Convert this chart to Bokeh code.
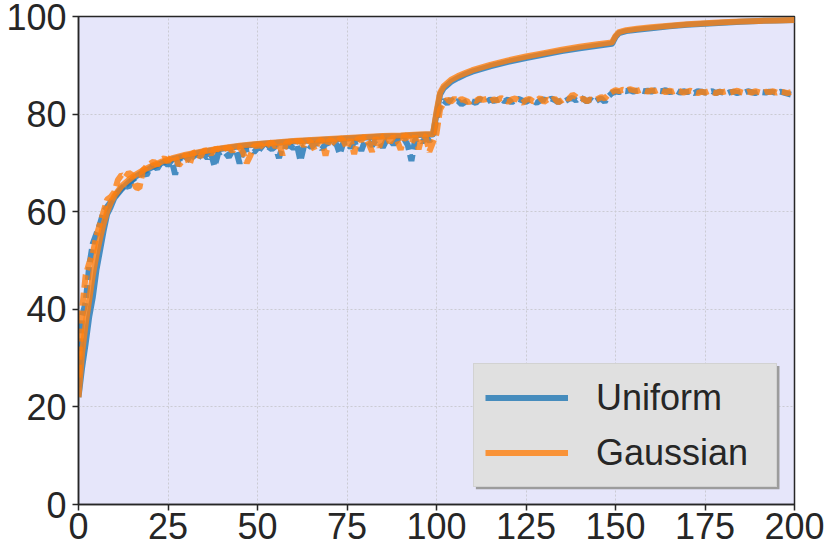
from bokeh.plotting import figure
from bokeh.models import FixedTicker, Legend, LegendItem, Range1d, BoxAnnotation
from bokeh.embed import file_html
from bokeh.resources import INLINE

# ---------------- data ----------------
train_epochs = [0, 1, 2, 3, 4, 5, 6, 7, 8, 9, 10, 12, 14, 16, 18, 20, 23, 26, 30, 35,
                40, 45, 50, 55, 60, 65, 70, 75, 80, 85, 90, 95, 99, 100, 101, 102, 104,
                106, 108, 110, 115, 120, 125, 130, 135, 140, 145, 149, 150, 151, 153,
                156, 160, 165, 170, 175, 180, 185, 190, 195, 200]

uniform_train = [22, 28, 33, 38.5, 42.5, 48, 52, 56, 59.5, 61, 62.8, 64.6, 66, 67.2, 68.1,
                 68.9, 69.9, 70.7, 71.5, 72.3, 72.9, 73.4, 73.8, 74.1, 74.4, 74.6, 74.8,
                 75.0, 75.2, 75.4, 75.5, 75.7, 75.8, 80, 84, 85.3, 86.6, 87.4, 88.1, 88.7,
                 89.8, 90.7, 91.5, 92.2, 92.9, 93.5, 94.0, 94.4, 95.8, 96.6, 97.0, 97.3,
                 97.6, 98.0, 98.3, 98.5, 98.7, 98.9, 99.1, 99.2, 99.3]

gaussian_train = [22, 31, 37, 42, 47, 51, 54.5, 57.5, 60, 61.8, 63.2, 65.2, 66.5, 67.6, 68.5,
                  69.2, 70.2, 70.9, 71.7, 72.4, 73.0, 73.5, 73.9, 74.2, 74.5, 74.7, 74.9,
                  75.1, 75.3, 75.5, 75.6, 75.8, 75.9, 80.5, 84.4, 85.7, 87.0, 87.8, 88.4,
                  89.0, 90.1, 91.0, 91.8, 92.5, 93.2, 93.8, 94.3, 94.7, 96.0, 96.8, 97.2,
                  97.5, 97.8, 98.1, 98.4, 98.6, 98.8, 99.0, 99.1, 99.2, 99.3]

test_epochs = list(range(0, 200))

uniform_test = [
    24, 38.5, 41.5, 49, 53.5, 55.5, 57.5, 60, 61, 62,
    63, 64, 64.8, 65.5, 65, 66.5, 67, 67.3, 68, 67.5,
    69, 69.5, 68.8, 70, 70.3, 69.5, 70.6, 67.6, 70.9, 71,
    70.2, 71.2, 71.5, 70.5, 71.6, 71.8, 71, 72, 69.3, 71.9,
    72.3, 72.1, 71.2, 72.5, 72.6, 69.9, 72.5, 72.8, 72.9, 72.2,
    73, 73.1, 72.5, 73.3, 72.8, 73.4, 71, 73.5, 73.4, 73.6,
    73, 73.7, 70.4, 73.5, 73.8, 73.2, 73.9, 74, 72.8, 73.9,
    74.1, 73.2, 74, 71.8, 74.2, 74.3, 73.1, 74.2, 74.4, 72.5,
    74.5, 74.3, 73.5, 74.6, 74.4, 73.2, 74.6, 74.7, 73.8, 74.8,
    74.2, 74.9, 73.6, 70.4, 74.7, 75, 74.3, 75.1, 74.5, 75.2,
    79, 81.8, 82.8, 82.2, 83, 82.3, 82.7, 82, 82.5, 82.9,
    82.6, 82.3, 83.1, 82.8, 82.5, 83, 82.7, 82.9, 83.2, 82.6,
    83, 82.4, 82.9, 83.1, 82.8, 82.5, 82.9, 82.7, 82.3, 82.8,
    83, 82.6, 83.2, 82.9, 82.4, 83, 82.7, 83.1, 83.3, 82.8,
    83.4, 83.1, 82.6, 83, 82.4, 82.9, 83.2, 82.5, 83.6, 84.3,
    84.6, 84.5, 84.8, 84.7, 84.9, 84.6, 84.8, 84.9, 84.7, 84.8,
    84.6, 84.9, 84.8, 84.7, 84.9, 84.5, 84.6, 84.8, 84.4, 84.7,
    84.5, 84.6, 84.3, 84.7, 84.6, 84.4, 84.5, 84.7, 84.3, 84.6,
    84.4, 84.2, 84.5, 84.6, 84.3, 84.5, 84.4, 84.7, 84.5, 84.3,
    84.6, 84.5, 84.4, 84.6, 84.5, 84.3, 84.6, 84.4, 84.2, 84.0]

gaussian_test = [
    26, 40, 47, 49.5, 51.5, 55, 57.5, 60, 62.5, 63,
    64, 66.5, 67.5, 67, 68, 67.5, 65, 64.8, 68.5, 69.3,
    69.8, 70.3, 69.5, 70.5, 71, 70.2, 71.3, 71.4, 69.5, 70.4,
    71.8, 69.6, 72, 72.3, 71.2, 72.5, 72.6, 71.8, 72.8, 72.9,
    72.2, 73, 73.1, 72.4, 73.3, 73.2, 72.1, 70, 71.5, 73.4,
    73.5, 73.7, 72.8, 73.8, 74.2, 73.3, 74, 71.6, 74.1, 74.3,
    73.6, 74.5, 74.4, 73.5, 74.6, 74.2, 72.6, 74.3, 74.8, 71.5,
    74.7, 74.5, 73.8, 75, 74.6, 72.9, 74.8, 71.8, 75.1, 74.6,
    75.4, 74.1, 72.3, 75.2, 73.2, 75.3, 75.6, 74.2, 75.4, 74.6,
    72.7, 75.7, 75.2, 74, 75.5, 72.8, 75.6, 75.3, 72.3, 74.2,
    76, 81, 82.2, 83, 82.5, 83.2, 82.6, 83.1, 82.8, 82.4,
    83, 82.7, 83.2, 82.9, 83.1, 82.6, 83, 82.8, 83.3, 82.9,
    82.5, 83, 83.2, 82.7, 82.3, 82.9, 83.1, 82.6, 82.8, 83.3,
    82.5, 83, 82.7, 83.2, 82.4, 82.8, 83.4, 83.1, 84, 83.5,
    82.9, 83.2, 82.6, 83, 82.8, 83.1, 83.5, 83.2, 84, 84.5,
    84.9, 84.7, 85, 84.8, 85.1, 84.9, 84.7, 85, 84.8, 84.6,
    84.9, 84.7, 85, 84.8, 84.5, 84.8, 84.6, 84.9, 84.7, 84.4,
    84.6, 84.8, 84.5, 84.3, 84.6, 84.4, 84.7, 84.5, 84.3, 84.6,
    84.5, 84.7, 84.4, 84.6, 84.8, 84.5, 84.3, 84.6, 84.4, 84.7,
    84.5, 84.3, 84.6, 84.5, 84.7, 84.4, 84.6, 84.5, 84.3, 84.5]

x_ticks = [0, 25, 50, 75, 100, 125, 150, 175, 200]
y_ticks = [0, 20, 40, 60, 80, 100]
series_labels = ["Uniform", "Gaussian"]

# ---------------- styling ----------------
BLUE = "#1f77b4"
ORANGE = "#ff7f0e"
FONT = "Liberation Sans"
TEXT = "#262626"

p = figure(width=830, height=552,
           x_range=Range1d(0, 200), y_range=Range1d(0, 100),
           output_backend="svg", toolbar_location=None,
           min_border_left=78, min_border_top=16, min_border_right=36, min_border_bottom=48,
           background_fill_color="#e6e6fa", border_fill_color="white")

p.outline_line_color = "#262626"
p.outline_line_width = 1.5

for ax, ticks in ((p.xaxis[0], x_ticks), (p.yaxis[0], y_ticks)):
    ax.ticker = FixedTicker(ticks=ticks)
    ax.major_label_text_font = FONT
    ax.major_label_text_font_size = "36px"
    ax.major_label_text_color = TEXT
    ax.major_tick_in = 0
    ax.major_tick_out = 6
    ax.major_tick_line_color = "#262626"
    ax.major_tick_line_width = 1.5
    ax.minor_tick_line_color = None
    ax.axis_line_color = "#262626"
    ax.axis_line_width = 1.5
p.xaxis.major_label_standoff = 2
p.yaxis.major_label_standoff = 6

p.xgrid.ticker = FixedTicker(ticks=x_ticks)
p.ygrid.ticker = FixedTicker(ticks=y_ticks)
for g in (p.xgrid[0], p.ygrid[0]):
    g.grid_line_color = "#cbcbd3"
    g.grid_line_dash = "2 2"
    g.grid_line_width = 1

r_u_train = p.line(train_epochs, uniform_train, line_color=BLUE, line_alpha=0.8,
                   line_width=6, line_join="round")
r_u_test = p.line(test_epochs, uniform_test, line_color=BLUE, line_alpha=0.8,
                  line_width=6, line_dash="13 5")
r_g_train = p.line(train_epochs, gaussian_train, line_color=ORANGE, line_alpha=0.8,
                   line_width=6, line_join="round")
r_g_test = p.line(test_epochs, gaussian_test, line_color=ORANGE, line_alpha=0.8,
                  line_width=6, line_dash="13 5")

# drop shadow behind the legend box (decoration only)
shadow = BoxAnnotation(left=111.0, right=195.8, top=28.4, bottom=3.1,
                       fill_color="#9c9c9c", fill_alpha=1.0, line_color=None)
p.add_layout(shadow)

legend = Legend(items=[LegendItem(label=series_labels[0], renderers=[r_u_train]),
                       LegendItem(label=series_labels[1], renderers=[r_g_train])],
                location="bottom_right", margin=17, padding=11, spacing=10,
                glyph_width=83, glyph_height=45, label_height=45, label_width=169,
                label_standoff=28, label_text_font=FONT, label_text_font_size="36px",
                label_text_color=TEXT, background_fill_color="#e0e0e0",
                background_fill_alpha=1.0, border_line_color="#c4c4c4",
                border_line_width=1)
p.add_layout(legend)

open("out.html", "w").write(file_html(p, INLINE))
